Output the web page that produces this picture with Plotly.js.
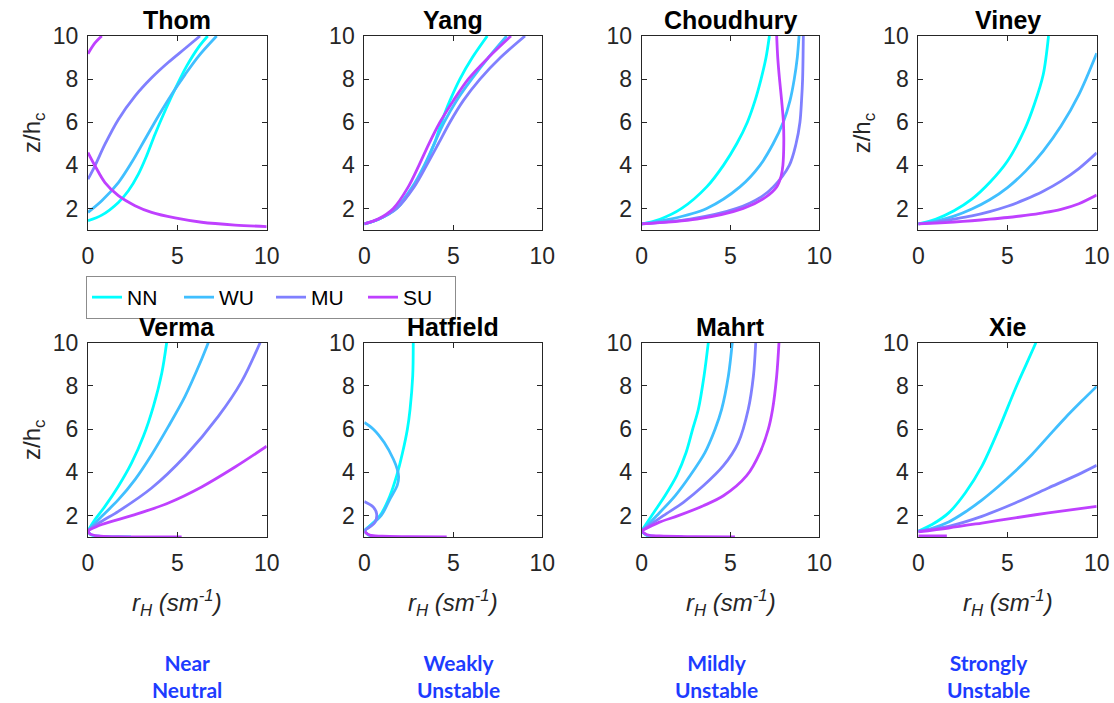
<!DOCTYPE html>
<html>
<head>
<meta charset="utf-8">
<script src="https://cdn.plot.ly/plotly-3.0.1.min.js"></script>
<style>
  html, body { margin: 0; padding: 0; background: #ffffff; }
  #chart { width: 1114px; height: 703px; }
</style>
</head>
<body>
<div id="chart"></div>
<script>
// Stability classes and model names
const classes = ['NN', 'WU', 'MU', 'SU'];
const models = ['Thom', 'Yang', 'Choudhury', 'Viney', 'Verma', 'Hatfield', 'Mahrt', 'Xie'];
const stabilityLabels = ['Near<br>Neutral', 'Weakly<br>Unstable', 'Mildly<br>Unstable', 'Strongly<br>Unstable'];
const xTicks = [0, 5, 10];
const yTicks = [2, 4, 6, 8, 10];

// Profiles of r_H (s m^-1) against z/h_c, as [r_H, z/h_c]; null pairs split branches
const thomNN = [[0,1.43],[0.77,1.69],[1.7,2.28],[2.26,2.82],[2.82,3.59],[3.28,4.44],[3.75,5.44],[4.35,6.6],[4.95,7.67],[5.52,8.6],[6.22,9.52],[6.7,10]];
const thomWU = [[0,1.82],[0.77,2.36],[1.7,3.2],[2.44,4.13],[3.19,5.21],[3.94,6.29],[4.68,7.29],[5.43,8.21],[6.18,9.06],[7.2,10]];
const thomMU = [[0,3.36],[0.39,3.98],[0.95,4.98],[1.7,6.13],[2.63,7.21],[3.56,8.06],[4.5,8.78],[5.43,9.42],[6.27,10]];
const thomSU = [[0,9.18],[0.39,9.68],[0.77,10],[null,null],[0,4.59],[0.39,3.98],[0.95,3.2],[1.7,2.59],[2.63,2.13],[3.56,1.82],[4.87,1.56],[6.36,1.36],[8.23,1.23],[10,1.16]];

const yangNN = [[0,1.28],[0.8,1.5],[1.82,2.0],[2.75,3.0],[3.41,4.0],[3.93,5.0],[4.34,6.0],[4.81,7.0],[5.37,8.0],[6.07,9.0],[6.91,10]];
const yangWU = [[0,1.28],[0.8,1.5],[1.76,2.0],[2.7,3.0],[3.37,4.0],[3.93,5.0],[4.49,6.0],[5.18,7.0],[6.03,8.0],[6.97,9.0],[8.0,10]];
const yangMU = [[0,1.28],[0.8,1.5],[1.82,2.0],[2.8,3.0],[3.5,4.0],[4.16,5.0],[4.81,6.0],[5.56,7.0],[6.5,8.0],[7.65,9.0],[9.03,10]];
const yangSU = [[0,1.28],[0.8,1.52],[1.63,2.0],[2.47,3.0],[3.07,4.0],[3.63,5.0],[4.25,6.0],[5.0,7.0],[5.84,8.0],[6.97,9.0],[8.24,10]];

const choudhuryNN = [[0,1.28],[1.03,1.5],[2.25,2.0],[3.66,3.0],[4.6,4.0],[5.35,5.0],[5.95,6.0],[6.38,7.0],[6.72,8.0],[7.0,9.0],[7.19,10]];
const choudhuryWU = [[0,1.28],[1.6,1.5],[3.66,2.0],[5.53,3.0],[6.66,4.0],[7.4,5.0],[7.97,6.0],[8.35,7.0],[8.59,8.0],[8.76,9.0],[8.86,10]];
const choudhuryMU = [[0,1.28],[2.72,1.5],[5.35,2.0],[6.66,2.5],[7.41,3.0],[8.31,4.0],[8.69,5.0],[8.91,6.0],[9.0,7.0],[9.06,8.0],[9.1,10]];
const choudhurySU = [[0,1.28],[3.1,1.5],[5.72,2.0],[6.94,2.5],[7.6,3.0],[7.85,3.5],[7.95,4.0],[8.0,5.0],[7.98,6.0],[7.88,7.0],[7.76,8.0],[7.66,9.0],[7.6,10]];

const vineyNN = [[0,1.28],[1,1.51],[2,1.89],[3,2.43],[4,3.2],[5,4.2],[6,5.74],[6.5,6.82],[7,8.2],[7.3,10]];
const vineyWU = [[0,1.28],[1,1.41],[2,1.64],[3,1.97],[4,2.4],[5,2.97],[6,3.72],[7,4.66],[8,5.82],[9,7.28],[10,9.2]];
const vineyMU = [[0,1.28],[1,1.37],[2,1.5],[3,1.65],[4,1.85],[5,2.1],[6,2.42],[7,2.8],[8,3.27],[9,3.85],[10,4.58]];
const vineySU = [[0,1.28],[1,1.32],[2,1.37],[3,1.43],[4,1.5],[5,1.58],[6,1.68],[7,1.8],[8,1.96],[9,2.22],[10,2.62]];

const vermaNN = [[0,1.31],[0.39,1.82],[0.95,2.43],[1.7,3.36],[2.44,4.44],[3.1,5.67],[3.66,7.06],[4.13,8.6],[4.4,10],[null,null],[0,1.31],[0.12,1.14],[0.6,1.05],[1.4,1.02],[2.4,1.02]];
const vermaWU = [[0,1.31],[0.77,1.97],[1.7,2.74],[2.63,3.67],[3.56,4.82],[4.5,6.13],[5.43,7.52],[6.27,9.06],[6.73,10]];
const vermaMU = [[0,1.31],[0.77,1.74],[1.7,2.2],[3.56,3.28],[5.43,4.75],[7.29,6.59],[8.6,8.21],[9.63,10]];
const vermaSU = [[0,1.31],[0.77,1.59],[2.63,2.05],[4.5,2.59],[6.36,3.33],[8.23,4.25],[10,5.21],[null,null],[0,1.31],[0.11,1.16],[0.58,1.06],[1.7,1.03],[5.24,1.02]];

const hatfieldNN = [[0,1.31],[0.88,2.0],[1.44,2.92],[1.82,3.85],[2.15,4.92],[2.42,6.0],[2.57,6.92],[2.72,8.46],[2.75,10],[null,null],[0,1.28],[0.3,1.08],[0.8,1.03],[1.44,1.02]];
const hatfieldWU = [[0,1.31],[0.94,2.0],[1.44,2.77],[1.85,3.4],[1.93,3.8],[1.85,4.15],[1.63,4.62],[1.12,5.38],[0.51,6.0],[0,6.31]];
const hatfieldMU = [[0,1.31],[0.6,1.69],[0.69,2.1],[0.5,2.4],[0,2.65]];
const hatfieldSU = [[0,1.28],[0.3,1.1],[1,1.05],[2.5,1.03],[4.63,1.02]];

const mahrtNN = [[0,1.3],[0.56,2.0],[1.31,2.92],[1.97,3.85],[2.5,4.92],[2.87,6.0],[3.19,6.92],[3.51,8.46],[3.75,10],[null,null],[0,1.28],[0.3,1.08],[0.8,1.03],[1.5,1.02]];
const mahrtWU = [[0,1.3],[0.84,2.0],[1.88,2.92],[2.72,3.85],[3.56,4.92],[4.13,6.0],[4.5,6.92],[4.88,8.46],[5.1,10],[null,null],[0,1.28],[0.3,1.09],[1,1.04],[2.3,1.02]];
const mahrtMU = [[0,1.3],[1.22,2.0],[2.35,2.62],[3.47,3.38],[4.6,4.31],[5.44,5.38],[6.0,6.92],[6.29,8.46],[6.42,10]];
const mahrtSU = [[0,1.3],[1.0,1.7],[2.06,2.0],[3.47,2.46],[4.6,2.92],[5.91,3.85],[6.66,4.92],[7.13,6.0],[7.37,6.92],[7.6,8.46],[7.73,10],[null,null],[0,1.28],[0.3,1.12],[1,1.06],[3,1.03],[5.25,1.02]];

const xieNN = [[0,1.28],[0.77,1.59],[1.7,2.13],[2.63,3.05],[3.56,4.28],[4.5,5.98],[5.43,7.85],[6.05,9.0],[6.59,10]];
const xieWU = [[0,1.28],[0.77,1.42],[1.7,1.71],[2.63,2.17],[3.56,2.72],[4.5,3.36],[5.43,4.05],[6.36,4.82],[7.29,5.67],[8.23,6.52],[9.16,7.3],[10,7.98]];
const xieMU = [[0,1.28],[1.7,1.51],[3.56,1.97],[5.43,2.59],[7.29,3.28],[9.16,3.98],[10,4.33]];
const xieSU = [[0,1.25],[1.7,1.43],[3.56,1.66],[5.43,1.9],[7.29,2.13],[10,2.43],[null,null],[0,1.06],[1.6,1.06]];

const profiles = [
  [thomNN, thomWU, thomMU, thomSU],
  [yangNN, yangWU, yangMU, yangSU],
  [choudhuryNN, choudhuryWU, choudhuryMU, choudhurySU],
  [vineyNN, vineyWU, vineyMU, vineySU],
  [vermaNN, vermaWU, vermaMU, vermaSU],
  [hatfieldNN, hatfieldWU, hatfieldMU, hatfieldSU],
  [mahrtNN, mahrtWU, mahrtMU, mahrtSU],
  [xieNN, xieWU, xieMU, xieSU]
];

// ---- styling / layout ----
const W = 1114, H = 703;
const lineColors = ['#00ffff', '#40bfff', '#8080ff', '#bf40ff'];
const axisColor = '#262626';
const sans = 'Liberation Sans, Arial, sans-serif';
const tickFont = { family: sans, size: 23, color: axisColor };
const colPx = [[88, 266.7], [364.3, 542.3], [641.7, 819.3], [918.3, 1096.7]];
const rowPx = [[36, 230], [342.7, 537.3]];
const captionX = [187, 458, 716, 988];
const px2x = p => p / W;
const px2y = p => 1 - p / H;

const traces = [];
const layout = {
  width: W, height: H,
  margin: { l: 0, r: 0, t: 0, b: 0 },
  paper_bgcolor: '#ffffff', plot_bgcolor: '#ffffff',
  showlegend: true,
  legend: {
    orientation: 'h',
    x: px2x(86), y: px2y(276), xanchor: 'left', yanchor: 'top',
    bgcolor: '#ffffff', bordercolor: '#8c8c8c', borderwidth: 1,
    font: { family: sans, size: 21, color: '#000000' },
    itemwidth: 30, entrywidth: 47, entrywidthmode: 'pixels', traceorder: 'normal'
  },
  annotations: []
};

models.forEach((name, m) => {
  const row = m < 4 ? 0 : 1;
  const col = m % 4;
  const k = m + 1;
  const sfx = k === 1 ? '' : String(k);
  const common = {
    showline: true, mirror: 'allticks', linecolor: axisColor, linewidth: 1,
    ticks: 'inside', ticklen: 5, tickwidth: 1, tickcolor: axisColor,
    tickfont: tickFont, showgrid: false, zeroline: false, fixedrange: true
  };
  layout['xaxis' + sfx] = Object.assign({}, common, {
    domain: [px2x(colPx[col][0]), px2x(colPx[col][1])],
    range: [0, 10], tickvals: xTicks, ticklabelstandoff: 5,
    anchor: 'y' + sfx
  });
  layout['yaxis' + sfx] = Object.assign({}, common, {
    domain: [px2y(rowPx[row][1]), px2y(rowPx[row][0])],
    range: [1, 10], tickvals: yTicks, ticklabelstandoff: 4,
    anchor: 'x' + sfx
  });

  profiles[m].forEach((pts, c) => {
    traces.push({
      type: 'scatter', mode: 'lines',
      x: pts.map(p => p[0]), y: pts.map(p => p[1]),
      xaxis: 'x' + sfx, yaxis: 'y' + sfx,
      name: classes[c], showlegend: m === 0,
      connectgaps: false,
      line: { color: lineColors[c], width: 2.8, shape: 'spline', smoothing: 0.9 },
      hoverinfo: 'skip'
    });
  });

  const cx = (colPx[col][0] + colPx[col][1]) / 2;
  // panel title
  layout.annotations.push({
    text: '<b>' + name + '</b>', xref: 'paper', yref: 'paper',
    x: px2x(cx), y: px2y(rowPx[row][0] - 16), xanchor: 'center', yanchor: 'middle',
    showarrow: false, font: { family: sans, size: 25, color: '#000000' }
  });
  // y-axis label on selected panels
  if (m === 0 || m === 3 || m === 4) {
    layout.annotations.push({
      text: 'z/h<sub>c</sub>', xref: 'paper', yref: 'paper', textangle: -90,
      x: px2x(colPx[col][0] - 55), y: px2y((rowPx[row][0] + rowPx[row][1]) / 2),
      xanchor: 'center', yanchor: 'middle', showarrow: false,
      font: { family: sans, size: 24, color: axisColor }
    });
  }
  // x-axis label on the bottom row
  if (row === 1) {
    layout.annotations.push({
      text: '<i>r<sub>H</sub> (sm<sup>-1</sup>)</i>', xref: 'paper', yref: 'paper',
      x: px2x(cx), y: px2y(603), xanchor: 'center', yanchor: 'middle', showarrow: false,
      font: { family: sans, size: 24, color: axisColor }
    });
    // stability class caption
    layout.annotations.push({
      text: '<b>' + stabilityLabels[col] + '</b>', xref: 'paper', yref: 'paper',
      x: px2x(captionX[col]), y: px2y(676), xanchor: 'center', yanchor: 'middle', showarrow: false,
      font: { family: 'Lato, Open Sans, sans-serif', size: 21, color: '#1d3cff' }
    });
  }
});

Plotly.newPlot('chart', traces, layout, { displayModeBar: false, staticPlot: true });
</script>
</body>
</html>
